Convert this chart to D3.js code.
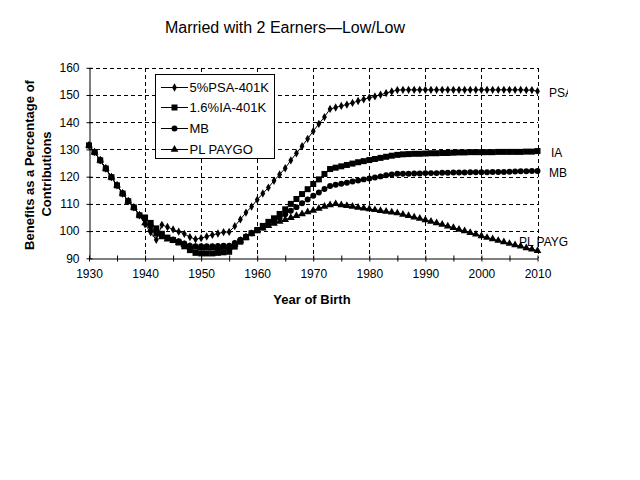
<!DOCTYPE html>
<html>
<head>
<meta charset="utf-8">
<script src="https://cdn.jsdelivr.net/npm/d3@7/dist/d3.min.js"></script>
<style>
  html, body { margin: 0; padding: 0; background: #fff; }
  svg { display: block; }
  text { font-family: Arial, "Liberation Sans", sans-serif; fill: #000; }
</style>
</head>
<body>
<svg id="chart" width="640" height="480"></svg>
<script>
// ---------- DATA ----------
const years = d3.range(1930, 2011);
const common = [131.5, 129.0, 126.0, 123.0, 119.8, 116.8, 113.8, 111.0, 108.7, 105.8];

const psa401k = common.concat([
  102.5, 99.5, 96.8, 102.3, 101.5, 100.6, 99.8, 99.0, 97.8, 97.0,
  97.4, 98.0, 98.6, 99.1, 99.6, 99.7, 101.8, 104.3, 106.8, 109.0,
  111.5, 113.8, 116.0, 118.5, 120.8, 123.1, 126.0, 128.6, 131.2, 133.9,
  136.7, 139.4, 141.9, 144.9, 145.4, 146.0, 146.5, 147.1, 147.8, 148.4,
  149.0, 149.5, 150.1, 150.7, 151.3, 151.8, 151.9, 151.9, 151.9, 151.9,
  151.9, 151.9, 151.9, 151.9, 151.9, 151.9, 151.9, 151.9, 151.9, 151.9,
  151.9, 151.9, 151.9, 151.9, 151.9, 151.9, 151.9, 151.9, 151.8, 151.8,
  151.4
]);

const ia401k = common.concat([
  105.0, 103.0, 101.0, 99.0, 97.6, 96.7, 95.8, 94.4, 93.0, 92.0,
  91.8, 91.8, 91.8, 92.0, 92.2, 92.4, 94.3, 96.1, 97.7, 99.2,
  100.4, 101.9, 103.4, 104.7, 106.3, 108.0, 110.0, 111.8, 113.6, 115.4,
  117.3, 119.0, 121.0, 122.8, 123.3, 123.8, 124.3, 124.8, 125.3, 125.7,
  126.1, 126.5, 126.9, 127.3, 127.7, 128.0, 128.2, 128.3, 128.4, 128.4,
  128.5, 128.6, 128.6, 128.7, 128.7, 128.8, 128.9, 128.9, 129.0, 129.0,
  129.0, 129.0, 129.0, 129.1, 129.1, 129.1, 129.1, 129.1, 129.2, 129.2,
  129.4
]);

const mb = common.concat([
  104.5, 102.0, 99.5, 98.3, 97.5, 96.9, 96.3, 95.4, 94.6, 94.4,
  94.4, 94.4, 94.4, 94.5, 94.6, 94.6, 95.6, 96.8, 98.0, 99.2,
  100.3, 101.3, 102.4, 103.5, 104.8, 106.2, 107.5, 108.8, 110.2, 111.6,
  113.0, 114.2, 115.5, 116.6, 117.0, 117.4, 117.8, 118.2, 118.6, 119.0,
  119.3, 119.7, 120.1, 120.5, 120.8, 121.1, 121.1, 121.1, 121.2, 121.2,
  121.3, 121.3, 121.3, 121.4, 121.4, 121.5, 121.5, 121.5, 121.6, 121.6,
  121.6, 121.6, 121.7, 121.7, 121.7, 121.8, 121.9, 122.0, 122.0, 122.1,
  122.1
]);

const plPaygo = common.concat([
  103.0, 100.5, 98.8, 97.8, 97.0, 96.4, 95.8, 95.0, 94.3, 94.0,
  93.8, 93.8, 93.8, 93.9, 94.0, 94.1, 95.2, 96.5, 97.7, 99.0,
  100.0, 101.0, 102.0, 102.8, 103.5, 104.2, 104.9, 105.6, 106.3, 107.0,
  107.6, 108.3, 109.0, 109.6, 110.0, 109.6, 109.3, 109.0, 108.7, 108.4,
  108.1, 107.8, 107.5, 107.2, 106.9, 106.6, 106.1, 105.6, 105.1, 104.6,
  104.1, 103.5, 103.0, 102.4, 101.8, 101.2, 100.6, 100.0, 99.4, 98.8,
  98.2, 97.6, 97.1, 96.5, 96.0, 95.4, 94.9, 94.4, 93.8, 93.3,
  92.8
]);

const seriesNames = ["5%PSA-401K", "1.6%IA-401K", "MB", "PL PAYGO"];
const endLabels = ["PSA", "IA", "MB", "PL PAYGO"];
const markerTypes = ["diamond", "square", "circle", "triangle"];
const xTicks = d3.range(1930, 2011, 5);
const yTicks = [90, 100, 110, 120, 130, 140, 150, 160];
const titleText = "Married with 2 Earners\u2014Low/Low";
const xTitle = "Year of Birth";
const yTitleLines = ["Benefits as a Percentage of", "Contributions"];

// ---------- CHART ----------
const svg = d3.select("#chart");
const x = d3.scaleLinear().domain([1930, 2010]).range([89, 537.5]);
const y = d3.scaleLinear().domain([90, 160]).range([258.3, 67.8]);

const seriesValues = [psa401k, ia401k, mb, plPaygo];
const series = seriesNames.map((n, i) => ({
  name: n, label: endLabels[i], marker: markerTypes[i],
  points: years.map((yr, j) => ({ year: yr, value: seriesValues[i][j] }))
}));

// title
svg.append("text").attr("x", 285).attr("y", 32.5).attr("text-anchor", "middle")
  .style("font-size", "16px").text(titleText);

// gridlines
const grid = svg.append("g").attr("stroke", "#000").attr("stroke-width", 1)
  .attr("stroke-dasharray", "4,3").attr("shape-rendering", "crispEdges");
grid.selectAll("line.h").data(yTicks.filter(v => v > 90)).join("line")
  .attr("x1", x(1930)).attr("x2", x(2010))
  .attr("y1", d => Math.round(y(d)) + 0.5).attr("y2", d => Math.round(y(d)) + 0.5);
grid.selectAll("line.v").data(d3.range(1940, 2011, 10)).join("line")
  .attr("x1", d => Math.round(x(d)) + 0.5).attr("x2", d => Math.round(x(d)) + 0.5)
  .attr("y1", y(160)).attr("y2", y(90));

// axes
const xAxis = d3.axisBottom(x).tickValues(xTicks).tickSizeInner(3).tickSizeOuter(0)
  .tickPadding(8).tickFormat(d => d % 10 === 0 ? d : "");
const gx = svg.append("g").attr("transform", `translate(0,${Math.round(y(90)) + 0.5})`).call(xAxis);
gx.selectAll(".tick line").attr("y1", -3).attr("y2", 3);
gx.selectAll("text").style("font-size", "12px").attr("font-family", null);
gx.attr("font-family", null);
gx.select(".domain").attr("stroke", "#000");

const yAxis = d3.axisLeft(y).tickValues(yTicks).tickSizeInner(3).tickSizeOuter(0).tickPadding(7);
const gy = svg.append("g").attr("transform", `translate(${Math.round(x(1930)) + 0.5},0)`).call(yAxis);
gy.selectAll(".tick line").attr("x1", -3).attr("x2", 3);
gy.selectAll("text").style("font-size", "12px");
gy.attr("font-family", null);
gx.selectAll("text").style("font-family", "Arial, 'Liberation Sans', sans-serif");
gy.selectAll("text").style("font-family", "Arial, 'Liberation Sans', sans-serif");

// axis titles
svg.append("text").attr("x", 312).attr("y", 304).attr("text-anchor", "middle")
  .style("font-size", "13px").style("font-weight", "bold").text(xTitle);
svg.append("text").attr("transform", "translate(34,165) rotate(-90)").attr("text-anchor", "middle")
  .style("font-size", "13px").style("font-weight", "bold").text(yTitleLines[0]);
svg.append("text").attr("transform", "translate(51,174) rotate(-90)").attr("text-anchor", "middle")
  .style("font-size", "13px").style("font-weight", "bold").text(yTitleLines[1]);

// markers
const symbolFor = {
  diamond: d3.symbol().type(d3.symbolDiamond).size(20),
  square: d3.symbol().type(d3.symbolSquare).size(36),
  circle: d3.symbol().type(d3.symbolCircle).size(28),
  triangle: d3.symbol().type(d3.symbolTriangle).size(26)
};

const line = d3.line().x(d => x(d.year)).y(d => y(d.value));
const gS = svg.append("g");
series.forEach(s => {
  gS.append("path").datum(s.points).attr("d", line)
    .attr("fill", "none").attr("stroke", "#000").attr("stroke-width", 1);
});
series.forEach(s => {
  gS.append("g").selectAll("path").data(s.points).join("path")
    .attr("transform", d => `translate(${x(d.year)},${y(d.value)})`)
    .attr("d", symbolFor[s.marker]()).attr("fill", "#000");
});

// end labels (clipped like the original)
svg.append("clipPath").attr("id", "lblclip").append("rect")
  .attr("x", 0).attr("y", 0).attr("width", 568).attr("height", 480);
const lblG = svg.append("g").attr("clip-path", "url(#lblclip)");
const lblPos = [[549, 96.5], [551, 157], [549, 177], [519, 245.5]];
series.forEach((s, i) => {
  lblG.append("text").attr("x", lblPos[i][0]).attr("y", lblPos[i][1])
    .style("font-size", "12px").text(s.label);
});

// legend
const lg = svg.append("g");
lg.append("rect").attr("x", 155.5).attr("y", 74.5).attr("width", 119).attr("height", 84)
  .attr("fill", "#fff").attr("stroke", "#000").attr("stroke-width", 1);
const rowY = [87, 107, 128, 149];
series.forEach((s, i) => {
  const ry = rowY[i] + 0.5;
  lg.append("line").attr("x1", 161).attr("x2", 188).attr("y1", ry).attr("y2", ry)
    .attr("stroke", "#000").attr("stroke-width", 1);
  lg.append("path").attr("transform", `translate(174.5,${ry})`).attr("d", symbolFor[s.marker]()).attr("fill", "#000");
  lg.append("text").attr("x", 189.5).attr("y", ry + 4.5).style("font-size", "13px").text(s.name);
});
</script>
</body>
</html>
